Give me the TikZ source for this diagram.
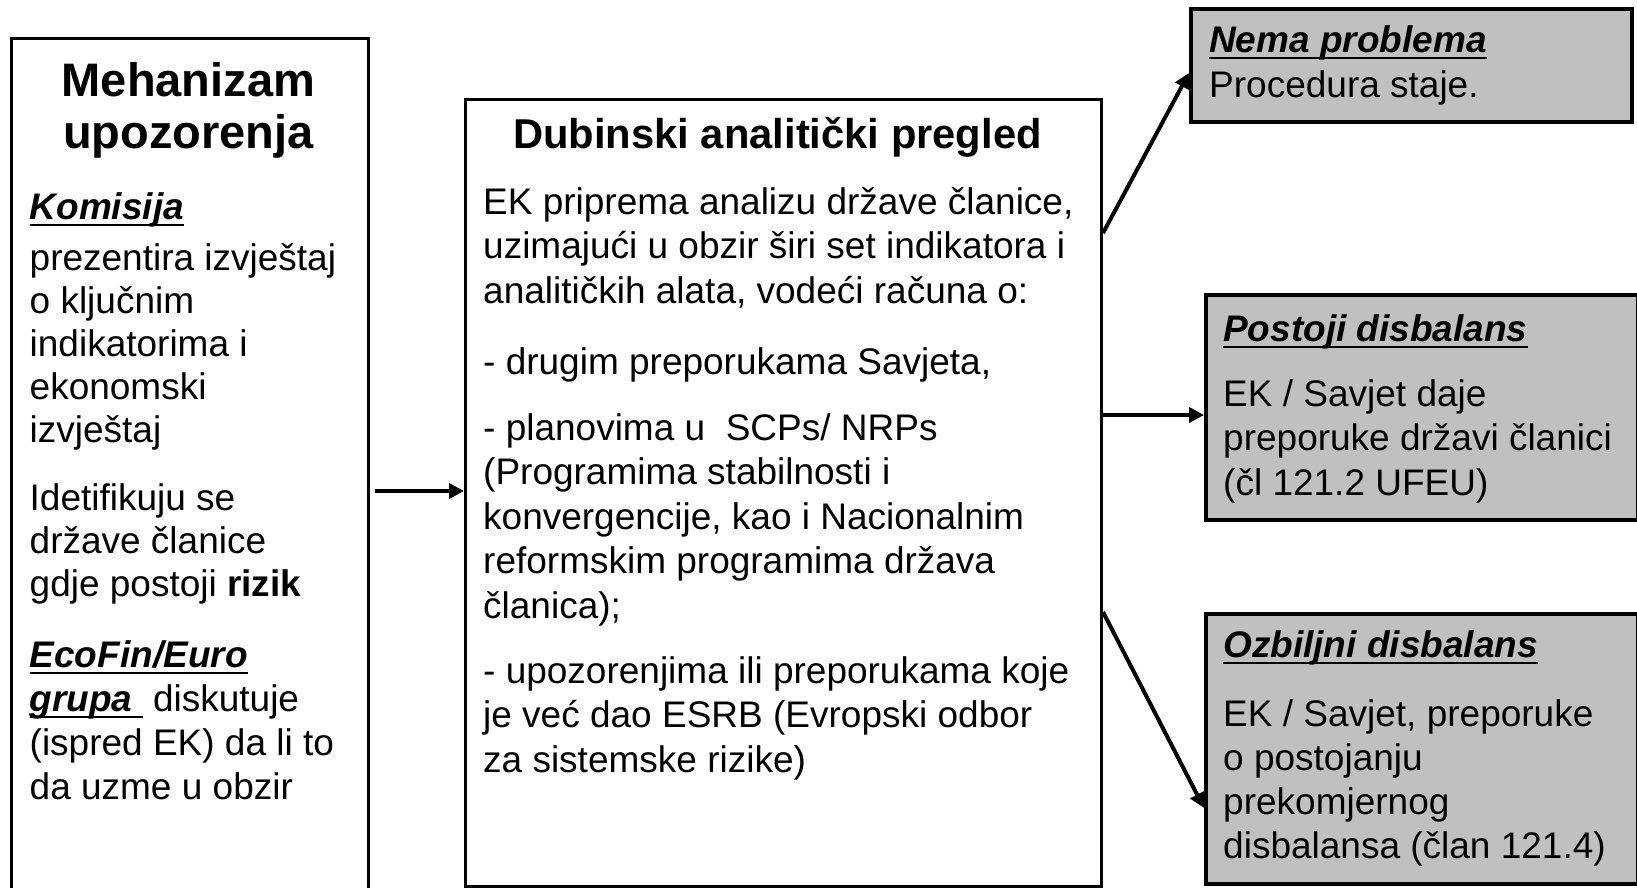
\documentclass[tikz,border=0pt]{standalone}
\usepackage{fontspec}
\setmainfont{Liberation Sans}
\usetikzlibrary{arrows.meta}
\definecolor{boxgray}{RGB}{192,192,192}
\newcommand\myul[1]{\setbox0\hbox{#1}\rlap{\rule[-7.2pt]{\wd0}{2.7pt}}\box0}
\begin{document}
\begin{tikzpicture}[x=1pt,y=-1pt,
  frame/.style={draw=black, line width=3pt, inner sep=0pt, anchor=north west},
  graybox/.style={frame, fill=boxgray, line width=3.5pt},
  txt/.style={anchor=base west, inner sep=0pt, font=\fontsize{37}{44}\selectfont},
  lhead/.style={anchor=base, inner sep=0pt, font=\bfseries\fontsize{47}{52}\selectfont},
  chead/.style={anchor=base, inner sep=0pt, font=\bfseries\fontsize{41.7}{50}\selectfont},
  conn/.style={line width=4pt, -{Triangle[length=15pt,width=15pt]}},
  emph/.style={}]
\useasboundingbox (0,0) rectangle (1637,887);
\clip (0,0) rectangle (1637,887);
\fill[white] (0,0) rectangle (1637,887);

% boxes
\node[frame, minimum width=357pt, minimum height=870pt] (lbox) at (10,37) {};
\node[frame, minimum width=636pt, minimum height=787pt] (cbox) at (464,98) {};
\node[graybox, minimum width=441pt, minimum height=113pt] (nema) at (1189,7) {};
\node[graybox, minimum width=432pt, minimum height=225pt] (post) at (1204,293) {};
\node[graybox, minimum width=432pt, minimum height=270pt] (ozb) at (1204,612) {};

% left box text
\node[lhead] (lh1) at (188.5,96) {Mehanizam};
\node[lhead] (lh2) at (188.5,148) {upozorenja};
\node[txt] (lk) at (29.5,219) {\myul{\bfseries\itshape Komisija}};
\foreach \t [count=\i] in {{prezentira izvještaj},{o ključnim},{indikatorima i},{ekonomski},{izvještaj}}
  \node[txt] (la\i) at (29.5,{270+43*(\i-1)}) {\t};
\foreach \t [count=\i] in {{Idetifikuju se},{države članice},{gdje postoji \textbf{rizik}}}
  \node[txt] (lb\i) at (29.5,{510+43*(\i-1)}) {\t};
\node[txt] (le1) at (29.5,667) {\myul{\bfseries\itshape EcoFin/Euro}};
\node[txt] (le2) at (29.5,711) {\myul{\bfseries\itshape grupa\ }\ diskutuje};
\node[txt] (le3) at (29.5,755) {(ispred EK) da li to};
\node[txt] (le4) at (29.5,799) {da uzme u obzir};

% center box text
\node[chead] (ch) at (777.5,148) {Dubinski analitički pregled};
\foreach \t [count=\i] in {{EK priprema analizu države članice,},{uzimajući u obzir širi set indikatora i},{analitičkih alata, vodeći računa o:}}
  \node[txt] (ca\i) at (483,{214+44.6*(\i-1)}) {\t};
\node[txt] (cb1) at (483,374) {- drugim preporukama Savjeta,};
\foreach \t [count=\i] in {{- planovima u \ SCPs/ NRPs},{(Programima stabilnosti i},{konvergencije, kao i Nacionalnim},{reformskim programima država},{članica);}}
  \node[txt] (cc\i) at (483,{440+44.6*(\i-1)}) {\t};
\foreach \t [count=\i] in {{- upozorenjima ili preporukama koje},{je već dao ESRB (Evropski odbor},{za sistemske rizike)}}
  \node[txt] (cd\i) at (483,{683+44.6*(\i-1)}) {\t};

% right boxes text
\node[txt] (n1) at (1209,52) {\myul{\bfseries\itshape Nema problema}};
\node[txt] (n2) at (1209,97) {Procedura staje.};
\node[txt] (p1) at (1223,341) {\myul{\bfseries\itshape Postoji disbalans}};
\foreach \t [count=\i] in {{EK / Savjet daje},{preporuke državi članici},{(čl 121.2 UFEU)}}
  \node[txt] (pa\i) at (1223,{406+44.5*(\i-1)}) {\t};
\node[txt] (o1) at (1223,657) {\myul{\bfseries\itshape Ozbiljni disbalans}};
\foreach \t [count=\i] in {{EK / Savjet, preporuke},{o postojanju},{prekomjernog},{disbalansa (član 121.4)}}
  \node[txt] (oa\i) at (1223,{726+44.3*(\i-1)}) {\t};

% connectors
\coordinate (s1) at (374.5,491);
\draw[conn] (s1) -- (s1 -| cbox.west);
\draw[conn] (cbox.east |- 0,233) -- (nema.west |- 0,73);
\draw[conn] (cbox.east |- 0,415) -- (post.west |- 0,415);
\draw[conn] (cbox.east |- 0,612) -- (ozb.west |- 0,808);
\end{tikzpicture}
\end{document}
